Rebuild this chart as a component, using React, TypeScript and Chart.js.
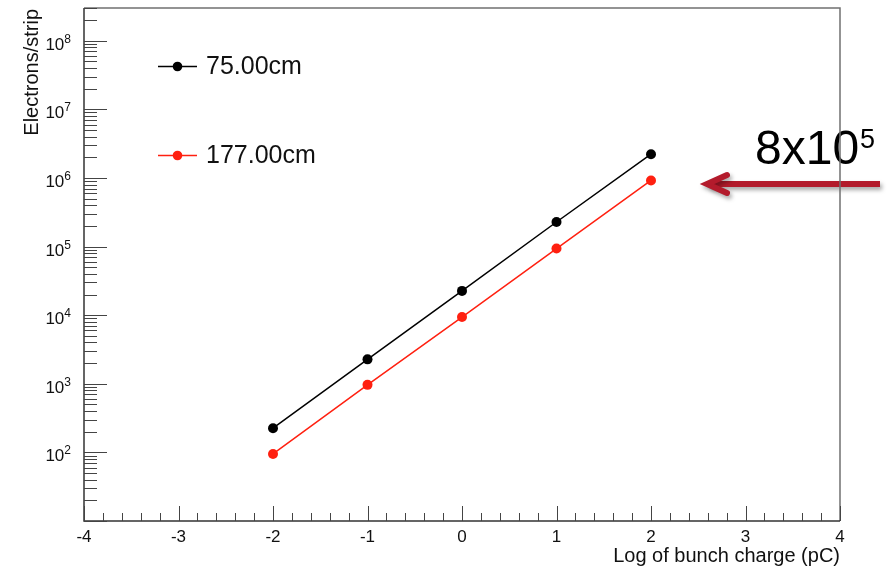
import { useEffect, useRef } from 'react';
import { Chart, registerables } from 'chart.js';

Chart.register(...registerables);

// Log10 of bunch charge in pC
const charges = [-2, -1, 0, 1, 2];
// Electrons per strip at the two distances
const electrons75 = [225, 2270, 22600, 228000, 2220000];
const electrons177 = [95, 965, 9400, 93500, 920000];

const seriesLabels = ['75.00cm', '177.00cm'];
const seriesColors = ['#000000', '#ff2010'];

const xTickValues = [-4, -3, -2, -1, 0, 1, 2, 3, 4];
const yDecades = [2, 3, 4, 5, 6, 7, 8];

const xTitle = 'Log of bunch charge (pC)';
const yTitle = 'Electrons/strip';
const noteBase = '8x10';
const noteExp = '5';

const FONT = '"Liberation Sans", Arial, Helvetica, sans-serif';

const rootStylePlugin = {
  id: 'rootStyle',
  afterDraw(chart: any) {
    const { ctx, chartArea } = chart;
    const xs = chart.scales.x;
    const ys = chart.scales.y;
    const { left, right, top, bottom } = chartArea;

    ctx.save();

    // annotation: value callout with arrow
    ctx.fillStyle = '#000';
    ctx.textBaseline = 'alphabetic';
    ctx.textAlign = 'left';
    ctx.font = `48px ${FONT}`;
    const baseW = ctx.measureText(noteBase).width;
    const noteX = 755;
    ctx.fillText(noteBase, noteX, 164);
    ctx.font = `27px ${FONT}`;
    ctx.fillText(noteExp, noteX + baseW + 1, 148);

    ctx.save();
    ctx.strokeStyle = '#b31b2c';
    ctx.lineWidth = 6;
    ctx.shadowColor = 'rgba(0,0,0,0.35)';
    ctx.shadowBlur = 4;
    ctx.shadowOffsetX = 2;
    ctx.shadowOffsetY = 3;
    ctx.lineCap = 'butt';
    ctx.beginPath();
    ctx.moveTo(880, 184);
    ctx.lineTo(709, 184);
    ctx.stroke();
    ctx.lineCap = 'round';
    ctx.lineJoin = 'miter';
    ctx.beginPath();
    ctx.moveTo(727, 175);
    ctx.lineTo(707, 184);
    ctx.lineTo(727, 193);
    ctx.stroke();
    ctx.restore();

    // frame
    ctx.lineWidth = 1.5;
    ctx.strokeStyle = '#707070';
    ctx.beginPath();
    ctx.moveTo(left, top);
    ctx.lineTo(right, top);
    ctx.lineTo(right, bottom);
    ctx.stroke();
    ctx.strokeStyle = '#333';
    ctx.beginPath();
    ctx.moveTo(left, top);
    ctx.lineTo(left, bottom);
    ctx.lineTo(right, bottom);
    ctx.stroke();

    // x ticks (inside)
    ctx.lineWidth = 1;
    ctx.strokeStyle = '#444';
    for (let i = -20; i <= 20; i++) {
      const v = i / 5;
      const px = Math.round(xs.getPixelForValue(v)) + 0.5;
      const len = i % 5 === 0 ? 15 : 8;
      ctx.beginPath();
      ctx.moveTo(px, bottom);
      ctx.lineTo(px, bottom - len);
      ctx.stroke();
    }

    // y ticks (inside), log decades with 2..9 minors
    const yMax = ys.max;
    for (let d = 1; d <= 8; d++) {
      for (let k = 1; k <= 9; k++) {
        const v = k * Math.pow(10, d);
        if (v > yMax * 1.0001) continue;
        const py = Math.round(ys.getPixelForValue(v)) + 0.5;
        const len = k === 1 ? 23 : 13;
        ctx.beginPath();
        ctx.moveTo(left, py);
        ctx.lineTo(left + len, py);
        ctx.stroke();
      }
    }

    // x tick labels
    ctx.fillStyle = '#111';
    ctx.font = `17px ${FONT}`;
    ctx.textAlign = 'center';
    ctx.textBaseline = 'alphabetic';
    for (const v of xTickValues) {
      ctx.fillText(String(v), xs.getPixelForValue(v), 542);
    }

    // y tick labels as powers of ten
    for (const d of yDecades) {
      const py = ys.getPixelForValue(Math.pow(10, d));
      ctx.font = `12px ${FONT}`;
      const ew = ctx.measureText(String(d)).width;
      ctx.font = `17px ${FONT}`;
      const bw = ctx.measureText('10').width;
      const x0 = 71 - ew - bw;
      ctx.textAlign = 'left';
      ctx.fillText('10', x0, py + 9);
      ctx.font = `12px ${FONT}`;
      ctx.fillText(String(d), x0 + bw, py + 2);
    }

    // axis titles
    ctx.font = `20px ${FONT}`;
    ctx.textAlign = 'right';
    ctx.fillText(xTitle, right, 562);
    ctx.save();
    ctx.translate(38, 9);
    ctx.rotate(-Math.PI / 2);
    ctx.textAlign = 'right';
    ctx.fillText(yTitle, 0, 0);
    ctx.restore();

    // legend
    const legendRows = [66.5, 155.5];
    seriesLabels.forEach((label, i) => {
      const y = legendRows[i];
      ctx.strokeStyle = seriesColors[i];
      ctx.fillStyle = seriesColors[i];
      ctx.lineWidth = 1.5;
      ctx.beginPath();
      ctx.moveTo(158, y);
      ctx.lineTo(197, y);
      ctx.stroke();
      ctx.beginPath();
      ctx.arc(177.5, y, 4.8, 0, Math.PI * 2);
      ctx.fill();
      ctx.fillStyle = '#111';
      ctx.font = `25px ${FONT}`;
      ctx.textAlign = 'left';
      ctx.textBaseline = 'middle';
      ctx.fillText(label, 206, y + 1);
    });

    ctx.restore();
  },
};

export default function App() {
  const canvasRef = useRef<HTMLCanvasElement | null>(null);

  useEffect(() => {
    const canvas = canvasRef.current;
    if (!canvas) return;
    const makePoints = (vals: number[]) => charges.map((c, i) => ({ x: c, y: vals[i] }));
    const chart = new Chart(canvas, {
      type: 'line',
      data: {
        datasets: [
          {
            label: seriesLabels[0],
            data: makePoints(electrons75),
            borderColor: seriesColors[0],
            backgroundColor: seriesColors[0],
            borderWidth: 1.5,
            pointRadius: 5,
            pointBorderWidth: 0,
            pointStyle: 'circle',
            tension: 0,
          },
          {
            label: seriesLabels[1],
            data: makePoints(electrons177),
            borderColor: seriesColors[1],
            backgroundColor: seriesColors[1],
            borderWidth: 1.5,
            pointRadius: 5,
            pointBorderWidth: 0,
            pointStyle: 'circle',
            tension: 0,
          },
        ],
      },
      options: {
        animation: false,
        responsive: false,
        maintainAspectRatio: false,
        layout: { padding: { left: 84, right: 53, top: 8, bottom: 64 } },
        plugins: { legend: { display: false }, tooltip: { enabled: false } },
        scales: {
          x: { type: 'linear', min: -4, max: 4, display: false },
          y: { type: 'logarithmic', min: 10, max: 3e8, display: false },
        },
      },
      plugins: [rootStylePlugin],
    });
    return () => chart.destroy();
  }, []);

  return (
    <div style={{ position: 'fixed', left: 0, top: 0, width: 893, height: 585, background: '#fff' }}>
      <canvas ref={canvasRef} width={893} height={585} style={{ width: 893, height: 585, display: 'block' }} />
    </div>
  );
}
